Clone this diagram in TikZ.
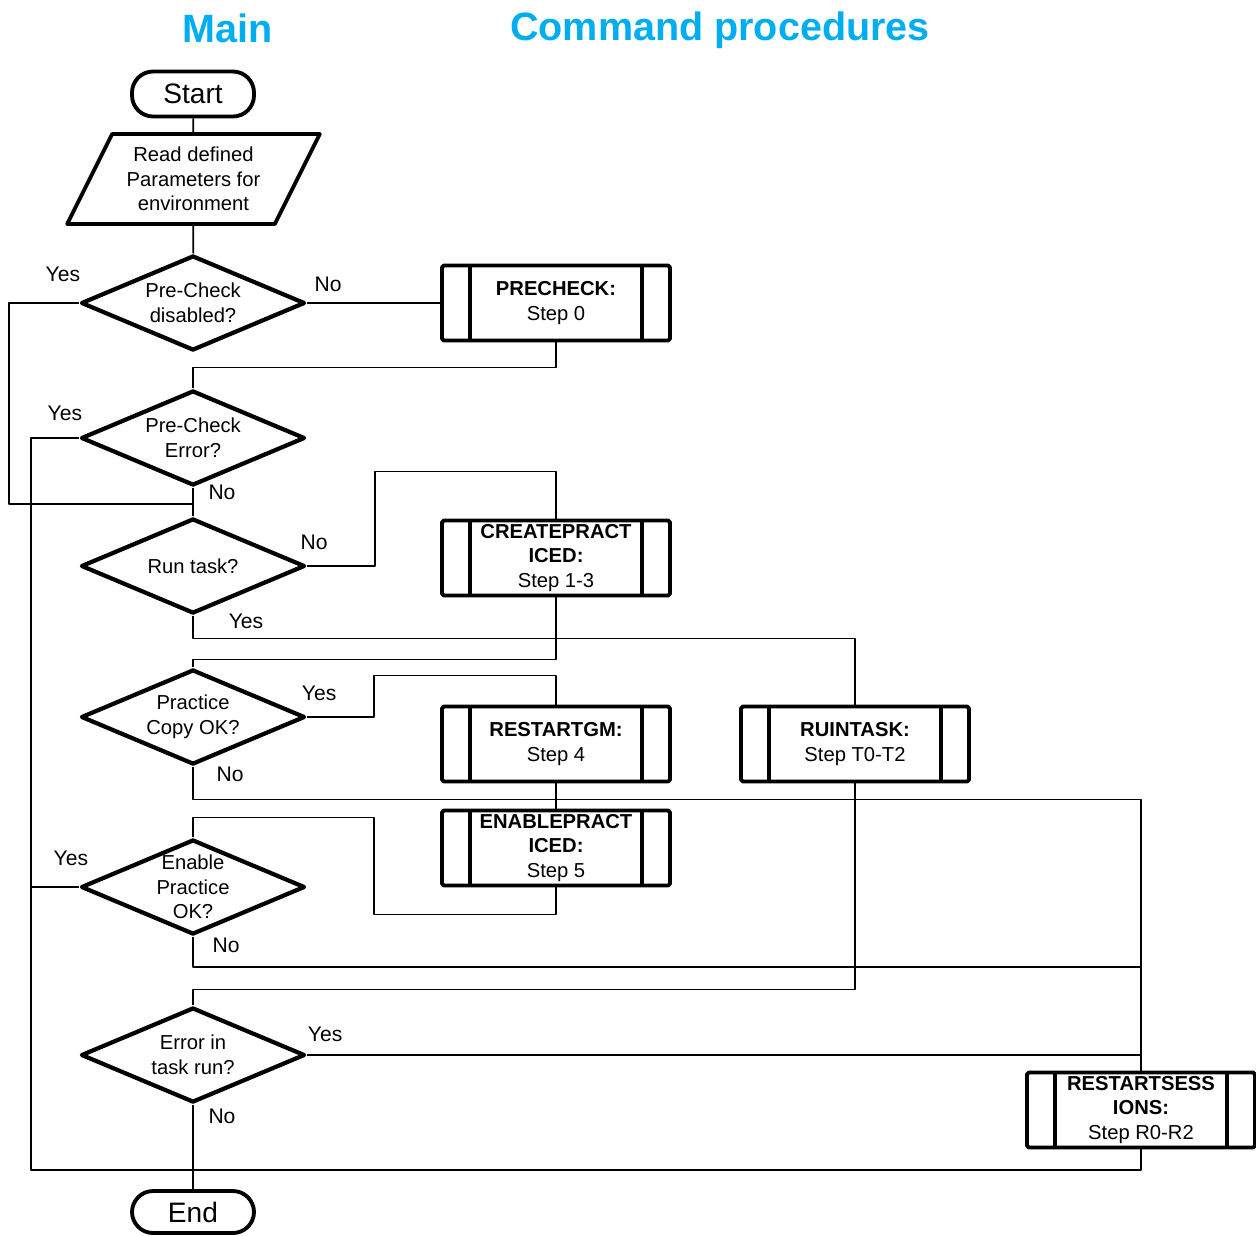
\documentclass[tikz,border=0pt]{standalone}
\usepackage{fontspec}
\setmainfont{Liberation Sans}
\usepackage{tikz}
\usetikzlibrary{shapes.geometric,calc}
\definecolor{titleblue}{RGB}{0,174,239}
\tikzstyle{flow}=[
  x=0.02cm,y=-0.02cm,line join=round
]
\tikzstyle{title}=[
  font=\bfseries\fontsize{22.5}{26}\selectfont,text=titleblue
]
\tikzstyle{term}=[
  draw,rectangle,rounded corners=12pt,line width=2.2pt,minimum width=2.44cm,
  font=\fontsize{16}{18}\selectfont
]
\tikzstyle{io}=[
  draw,trapezium,trapezium left angle=60,trapezium right angle=120,
  trapezium stretches=true,line width=2.2pt,minimum width=5.06cm,
  minimum height=1.8cm,inner sep=0pt,align=center,font=\fontsize{11.5}{14}\selectfont
]
\tikzstyle{decision}=[
  draw,diamond,line width=2.4pt,minimum width=4.48cm,minimum height=1.9cm,inner sep=0pt
]
\tikzstyle{dtext}=[
  align=center,inner sep=0pt,font=\fontsize{11.5}{14}\selectfont
]
\tikzstyle{proc}=[
  draw,rectangle,rounded corners=1pt,line width=2.2pt,minimum width=4.56cm,
  minimum height=1.5cm,inner sep=0pt,align=center,font=\fontsize{11.5}{14}\selectfont,
  path picture={
    \draw[line width=2.2pt]
      ([xshift=0.56cm]path picture bounding box.south west) -- ([xshift=0.56cm]path picture bounding box.north west)
      ([xshift=-0.56cm]path picture bounding box.south east) -- ([xshift=-0.56cm]path picture bounding box.north east);
  }
]
\tikzstyle{conn}=[
  line width=1pt
]
\tikzstyle{lbl}=[
  font=\fontsize{12}{14}\selectfont,inner sep=0pt
]

\begin{document}
\begin{tikzpicture}[flow]
  \useasboundingbox (0,0) rectangle (1256,1235);
  \node (main) at (228,28) [title] {Main};
  \node (cmd) at (720,30) [title] {Command procedures};

  % main column
  \node (start) at (193,94) [term,minimum height=0.9cm] {Start};
  \node (read) at (193.5,179) [io] {Read defined\\Parameters for\\environment};
  \node (d1) at (193,303) [decision,label={[dtext]center:{Pre-Check\\disabled?}}] {};
  \node (d2) at (193,438) [decision,label={[dtext]center:{Pre-Check\\Error?}}] {};
  \node (d3) at (193,566) [decision,label={[dtext]center:{Run task?}}] {};
  \node (d4) at (193,717) [decision,label={[dtext]center:{Practice\\Copy OK?}}] {};
  \node (d5) at (193,887) [decision,label={[dtext]center:{Enable\\Practice\\OK?}}] {};
  \node (d6) at (193,1055) [decision,label={[dtext]center:{Error in\\task run?}}] {};
  \node (end) at (193,1212) [term,minimum height=0.84cm] {End};

  % command procedures
  \node (pre) at (556,303) [proc] {\textbf{PRECHECK:}\\Step 0};
  \node (cre) at (556,558) [proc] {\textbf{CREATEPRACT}\\\textbf{ICED:}\\Step 1-3};
  \node (rgm) at (556,744) [proc] {\textbf{RESTARTGM:}\\Step 4};
  \node (ruin) at (855,744) [proc] {\textbf{RUINTASK:}\\Step T0-T2};
  \node (ena) at (556,848) [proc] {\textbf{ENABLEPRACT}\\\textbf{ICED:}\\Step 5};
  \node (rss) at (1141,1110) [proc] {\textbf{RESTARTSESS}\\\textbf{IONS:}\\Step R0-R2};

  \coordinate (j1) at (193,504);
  \coordinate (j9) at (193,1170);

  % connectors
  \draw [conn] (start) -- (read);
  \draw [conn] (read) -- (d1);
  \draw [conn] (d1.east) -- (pre.west);
  \draw [conn] (d1.west) -- ++(-70,0) |- (j1);
  \draw [conn] (pre.south) -- ++(0,25) -| (d2.north);
  \draw [conn] (d2.south) -- (d3.north);
  \draw [conn] (d2.west) -- ++(-48,0) |- (j9);
  \draw [conn] (d3.east) -- ++(68,0) |- ($(cre.north)+(0,-47)$) -- (cre.north);
  \draw [conn] (d3.south) -- ++(0,23) -| (ruin.north);
  \draw [conn] (cre.south) -- ++(0,62) -| (d4.north);
  \draw [conn] (d4.east) -- ++(67,0) |- ($(rgm.north)+(0,-29)$) -- (rgm.north);
  \draw [conn] (d4.south) -- ++(0,33) -| (rss.north);
  \draw [conn] (rgm) -- (ena);
  \draw [conn] (ena.south) -- ++(0,27) -| ($(d5.north)+(181,-20)$) -| (d5.north);
  \draw [conn] (d5.west) -- ++(-48,0);
  \draw [conn] (d5.south) -- ++(0,30) -| (rss.north);
  \draw [conn] (ruin.south) -- ++(0,206) -| (d6.north);
  \draw [conn] (d6.east) -| (rss.north);
  \draw [conn] (d6.south) -- (end);
  \draw [conn] (rss.south) |- (j9);

  % branch labels
  \node (y1) at ($(d1.west)+(-16,-29)$) [lbl] {Yes};
  \node (n1) at ($(d1.east)+(21,-19)$) [lbl] {No};
  \node (y2) at ($(d2.west)+(-14,-25)$) [lbl] {Yes};
  \node (n2) at ($(d2.south)+(29,5)$) [lbl] {No};
  \node (n3) at ($(d3.east)+(7,-24)$) [lbl] {No};
  \node (y3) at ($(d3.south)+(53,6)$) [lbl] {Yes};
  \node (y4) at ($(d4.east)+(12,-24)$) [lbl] {Yes};
  \node (n4) at ($(d4.south)+(37,8)$) [lbl] {No};
  \node (y5) at ($(d5.west)+(-8,-29)$) [lbl] {Yes};
  \node (n5) at ($(d5.south)+(33,9)$) [lbl] {No};
  \node (y6) at ($(d6.east)+(18,-21)$) [lbl] {Yes};
  \node (n6) at ($(d6.south)+(29,12)$) [lbl] {No};
\end{tikzpicture}
\end{document}
